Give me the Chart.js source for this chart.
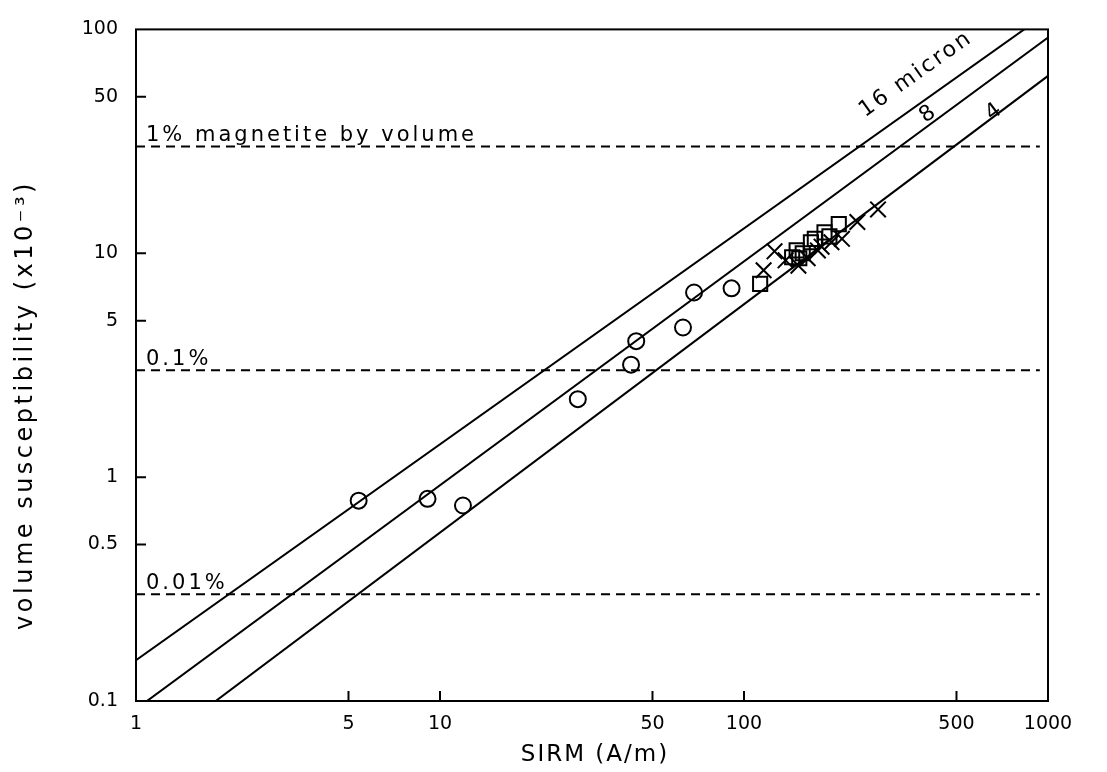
<!DOCTYPE html>
<html>
<head>
<meta charset="utf-8">
<script src="https://cdn.jsdelivr.net/npm/chart.js@4"></script>
<style>
  body { margin: 0; background: #fff; }
  #wrap { width: 1107px; height: 772px; }
</style>
</head>
<body>
<div id="wrap"><canvas id="susc" width="1107" height="772"></canvas></div>
<script>
// axis ticks
const xTicks = [1, 5, 10, 50, 100, 500, 1000];
const yTicks = [0.1, 0.5, 1, 5, 10, 50, 100];

// open circles
const circleSirm = [5.4, 9.1, 11.9, 28.4, 42.5, 44.2, 63, 68.5, 91];
const circleSusc = [0.785, 0.80, 0.747, 2.23, 3.18, 4.05, 4.66, 6.68, 6.97];

// squares
const squareSirm = [113, 144, 149, 152, 156, 166, 171, 184, 191, 205];
const squareSusc = [7.3, 9.6, 10.3, 9.5, 10.0, 11.2, 11.6, 12.4, 11.9, 13.5];

// crosses
const crossSirm = [116, 126, 137, 151, 162, 175, 180, 194, 210, 236, 276];
const crossSusc = [8.4, 10.2, 9.3, 8.8, 9.5, 10.3, 10.7, 11.2, 11.6, 13.8, 15.7];

// grain size lines (end points)
const micronLabels = ['16 micron', '8', '4'];
const micronSirm = [1, 1000];
const micron16 = [0.152, 119];
const micron8 = [0.092, 92];
const micron4 = [0.054, 62];

// magnetite content lines
const magnetiteLabels = ['1% magnetite by volume', '0.1%', '0.01%'];
const magnetiteSusc = [30, 3, 0.3];
const dashSirm = [1, 940];

const pts = (xs, ys) => xs.map((v, i) => ({ x: v, y: ys[i] }));

const datasets = [];
[micron16, micron8, micron4].forEach(m => {
  datasets.push({
    type: 'line', data: pts(micronSirm, m),
    borderColor: '#000', borderWidth: 2, pointRadius: 0, fill: false
  });
});
magnetiteSusc.forEach(v => {
  datasets.push({
    type: 'line', data: pts(dashSirm, [v, v]),
    borderColor: '#000', borderWidth: 2, borderDash: [9, 6], pointRadius: 0, fill: false
  });
});
datasets.push({
  type: 'scatter', data: pts(circleSirm, circleSusc),
  pointStyle: 'circle', pointRadius: 8, borderColor: '#000', borderWidth: 2,
  backgroundColor: 'rgba(0,0,0,0)'
});
datasets.push({
  type: 'scatter', data: pts(squareSirm, squareSusc),
  pointStyle: 'rect', pointRadius: 10, borderColor: '#000', borderWidth: 2,
  backgroundColor: 'rgba(0,0,0,0)'
});
datasets.push({
  type: 'scatter', data: pts(crossSirm, crossSusc),
  pointStyle: 'crossRot', pointRadius: 11, borderColor: '#000', borderWidth: 2
});

// frame, inward ticks, line labels and axis titles
const overlay = {
  id: 'overlay',
  beforeDraw(chart) {
    const c = chart.ctx;
    c.save();
    c.fillStyle = '#fff';
    c.fillRect(0, 0, chart.width, chart.height);
    c.restore();
  },
  afterDraw(chart, args, opts) {
    const c = chart.ctx;
    const a = chart.chartArea;
    const x = chart.scales.x, y = chart.scales.y;
    c.save();
    c.strokeStyle = '#000';
    c.lineWidth = 2;
    c.strokeRect(a.left, a.top, a.right - a.left, a.bottom - a.top);
    c.beginPath();
    xTicks.slice(1, -1).forEach(v => {
      const px = x.getPixelForValue(v);
      c.moveTo(px, a.bottom); c.lineTo(px, a.bottom - 10);
    });
    yTicks.slice(1, -1).forEach(v => {
      const py = y.getPixelForValue(v);
      c.moveTo(a.left, py); c.lineTo(a.left + 10, py);
    });
    c.stroke();

    c.fillStyle = '#000';
    c.font = '21px "DejaVu Sans"';
    c.letterSpacing = '3px';
    c.textAlign = 'left';
    c.textBaseline = 'alphabetic';
    magnetiteLabels.forEach((t, i) => {
      c.fillText(t, a.left + 10, y.getPixelForValue(magnetiteSusc[i]) - 5);
    });

    c.font = '22px "DejaVu Sans"';
    c.letterSpacing = '2.5px';
    c.textAlign = 'center';
    c.textBaseline = 'middle';
    const ends = [micron16, micron8, micron4];
    micronLabels.forEach((t, i) => {
      const x0 = x.getPixelForValue(micronSirm[0]), x1 = x.getPixelForValue(micronSirm[1]);
      const y0 = y.getPixelForValue(ends[i][0]), y1 = y.getPixelForValue(ends[i][1]);
      const ang = Math.atan2(y1 - y0, x1 - x0);
      const at = opts.micronAt[i];
      c.save();
      c.translate(x.getPixelForValue(at[0]), y.getPixelForValue(at[1]));
      c.rotate(ang);
      c.fillText(t, 0, 0);
      c.restore();
    });

    // axis titles
    c.font = '23px "DejaVu Sans"';
    c.letterSpacing = '2px';
    c.fillText('SIRM (A/m)', (a.left + a.right) / 2 + 3, 755);
    c.save();
    c.translate(26, 405);
    c.rotate(-Math.PI / 2);
    c.font = '24px "DejaVu Sans"';
    c.letterSpacing = '3.5px';
    c.fillText('volume susceptibility (x10\u207B\u00B3)', 0, 0);
    c.restore();
    c.restore();
  }
};

const tickFont = { family: 'DejaVu Sans', size: 19 };

new Chart(document.getElementById('susc').getContext('2d'), {
  type: 'scatter',
  data: { datasets: datasets },
  options: {
    responsive: false,
    animation: false,
    layout: { padding: { top: 15, right: 59, left: 0, bottom: 0 } },
    plugins: {
      legend: { display: false },
      tooltip: { enabled: false },
      overlay: { micronAt: [[368, 63], [405, 42], [668, 43]] }
    },
    scales: {
      x: {
        type: 'logarithmic', min: 1, max: 1000,
        afterBuildTicks: s => { s.ticks = xTicks.map(v => ({ value: v })); },
        afterFit: s => { s.height = 71; },
        grid: { display: false, drawTicks: false },
        border: { display: false },
        ticks: { autoSkip: false, maxRotation: 0, padding: 12, color: '#000', font: tickFont,
                 callback: v => String(v) }
      },
      y: {
        type: 'logarithmic', min: 0.1, max: 100,
        afterBuildTicks: s => { s.ticks = yTicks.map(v => ({ value: v })); },
        afterFit: s => { s.width = 136; },
        grid: { display: false, drawTicks: false },
        border: { display: false },
        ticks: { autoSkip: false, padding: 18, color: '#000', font: tickFont,
                 callback: v => String(v) }
      }
    }
  },
  plugins: [overlay]
});
</script>
</body>
</html>
